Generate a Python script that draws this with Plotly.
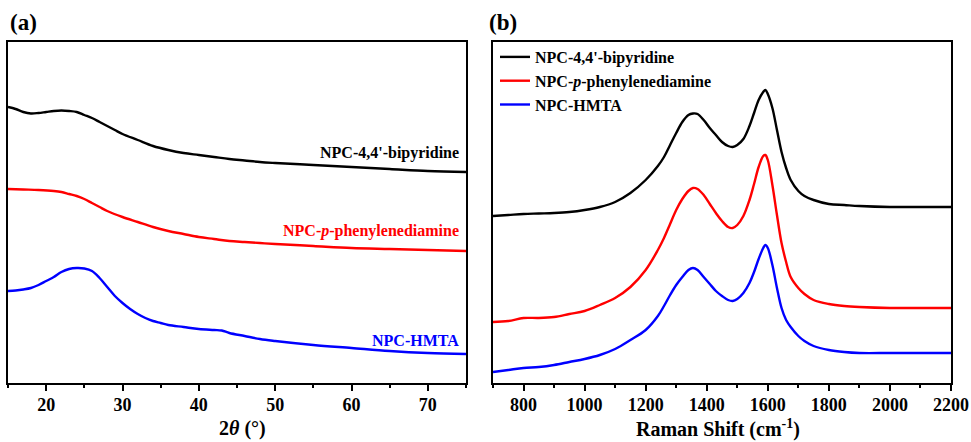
import plotly.graph_objects as go

# ---------------- Panel (a): XRD ----------------
xrd_two_theta_bipy = [15, 16, 17, 18, 19, 20, 21, 22, 23, 24, 25, 26, 27, 28, 29, 30, 32, 34, 36, 38, 40,
                      42, 44, 46, 48, 50, 55, 60, 65, 70, 75]
xrd_bipy = [293, 291, 288, 286.5, 287, 288, 289, 289.5, 289, 288, 285, 282, 278, 274, 270, 266, 260, 254,
            250, 247, 245, 243, 241, 239.5, 238, 237, 235, 233, 231, 229, 228]

xrd_two_theta_ppd = [15, 17, 19, 21, 22, 23, 24, 25, 26, 27, 28, 30, 32, 34, 36, 38, 40, 42, 44, 46, 48, 50,
                     55, 60, 65, 70, 75]
xrd_ppd = [211, 210.5, 210, 209, 208, 206, 204, 201, 197, 193, 189, 183, 178, 173, 169, 166, 163, 161, 159,
           158, 157, 156, 154, 152, 151, 150, 149]

xrd_two_theta_hmta = [15, 16, 17, 18, 19, 20, 21, 22, 23, 24, 25, 26, 27, 28, 29, 30, 31, 32, 33, 34, 35, 36,
                      38, 40, 42, 43, 44, 46, 48, 50, 55, 60, 65, 70, 75]
xrd_hmta = [109, 109.5, 110.5, 112, 115, 119, 123, 128, 131, 132, 131.5, 129, 122, 113, 104, 97, 91, 86, 82,
            79, 77, 75, 73, 71, 70, 69.5, 67, 64, 61, 59, 55, 52, 49, 47, 46]

# ---------------- Panel (b): Raman ----------------
raman_shift = [700, 750, 800, 850, 900, 950, 1000, 1050, 1100, 1150, 1200, 1240, 1260, 1280, 1300, 1320,
               1340, 1355, 1370, 1390, 1410, 1430, 1450, 1470, 1485, 1500, 1520, 1540, 1555, 1570, 1585,
               1592, 1600, 1615, 1630, 1645, 1660, 1675, 1700, 1720, 1750, 1800, 1850, 1900, 2000, 2100, 2200]
raman_bipy = [184, 185, 186, 186.5, 187, 188, 190, 193, 198, 207, 220, 234, 243, 255, 267, 278,
              285, 286.5, 286, 280, 272, 265, 258, 254, 253, 255, 261, 274, 287, 300, 308,
              310, 306, 292, 270, 248, 232, 220, 209, 204, 200, 196, 195, 194, 193, 193, 193]
raman_ppd = [78, 79, 82, 82, 83, 86, 89, 95, 102, 113, 130, 150, 162, 176, 190, 201,
             209, 212, 211, 205, 196, 187, 179, 173, 172, 175, 184, 200, 216, 233, 244,
             245, 240, 215, 185, 157, 138, 123, 112, 106, 100, 96, 94, 93, 92, 92, 92]
raman_hmta = [28, 30, 32, 33, 35, 38, 41, 45, 51, 60, 70, 84, 94, 105, 115, 123,
              130, 132, 130, 123, 116, 109, 104, 100, 99, 101, 107, 117, 128, 141, 152,
              155, 152, 135, 112, 92, 80, 73, 64, 59, 54, 50, 48, 47, 47, 47, 47]

names = ["NPC-4,4'-bipyridine", "NPC-<i>p</i>-phenylenediamine", "NPC-HMTA"]
colors = ["#000000", "#ff0000", "#0000ff"]

xticks_a = [20, 30, 40, 50, 60, 70]
xticks_b = [800, 1000, 1200, 1400, 1600, 1800, 2000, 2200]

FONT = "Liberation Serif, Times New Roman, serif"
W, H = 971, 442

fig = go.Figure()
xrd_sets = [(xrd_two_theta_bipy, xrd_bipy), (xrd_two_theta_ppd, xrd_ppd), (xrd_two_theta_hmta, xrd_hmta)]
for (xx, yy), c, n in zip(xrd_sets, colors, names):
    fig.add_trace(go.Scatter(x=xx, y=yy, mode="lines", line=dict(color=c, width=2.4, shape="spline"),
                             name=n, showlegend=False, xaxis="x", yaxis="y"))
for yy, c, n in zip([raman_bipy, raman_ppd, raman_hmta], colors, names):
    fig.add_trace(go.Scatter(x=raman_shift, y=yy, mode="lines", line=dict(color=c, width=2.4, shape="spline"),
                             name=n, showlegend=True, xaxis="x2", yaxis="y2"))

px = lambda v: v / W
py = lambda v: 1 - v / H

ydom = [py(383), py(42)]
common_x = dict(showline=True, linecolor="black", linewidth=2, mirror=True, ticks="outside",
                ticklen=6, tickwidth=1.5, tickcolor="black", showgrid=False, zeroline=False,
                tickfont=dict(family=FONT, size=18, color="black", weight="bold"), automargin=False,
                ticklabelstandoff=-2)
common_y = dict(showline=True, linecolor="black", linewidth=2, mirror=True, ticks="",
                showticklabels=False, showgrid=False, zeroline=False, range=[17, 358], domain=ydom,
                automargin=False)

fig.update_layout(
    width=W, height=H, margin=dict(l=0, r=0, t=0, b=0),
    paper_bgcolor="white", plot_bgcolor="white",
    xaxis=dict(common_x, domain=[px(8), px(466)], range=[15, 75], tickvals=xticks_a,
               minor=dict(dtick=5, tick0=0, ticks="outside", ticklen=3, tickwidth=1.5, tickcolor="black"),
               anchor="y"),
    yaxis=dict(common_y, anchor="x"),
    xaxis2=dict(common_x, domain=[px(493), px(951)], range=[700, 2200], tickvals=xticks_b,
                minor=dict(dtick=100, tick0=0, ticks="outside", ticklen=3, tickwidth=1.5, tickcolor="black"),
                anchor="y2"),
    yaxis2=dict(common_y, anchor="x2"),
    legend=dict(x=px(495), y=py(40), xanchor="left", yanchor="top", bgcolor="rgba(0,0,0,0)",
                font=dict(family=FONT, size=16, color="black", weight="bold"), tracegroupgap=0,
                itemwidth=30),
    showlegend=True,
)

ann = []
# panel labels
ann.append(dict(text="(a)", x=px(8), y=py(22), xref="paper", yref="paper", xanchor="left", yanchor="middle",
                showarrow=False, font=dict(family=FONT, size=23, color="black", weight="bold")))
ann.append(dict(text="(b)", x=px(487), y=py(22), xref="paper", yref="paper", xanchor="left", yanchor="middle",
                showarrow=False, font=dict(family=FONT, size=23, color="black", weight="bold")))
# axis titles
ann.append(dict(text="2<i>θ</i> (°)", x=px(242), y=py(428), xref="paper", yref="paper", xanchor="center",
                yanchor="middle", showarrow=False, font=dict(family=FONT, size=20, color="black", weight="bold")))
ann.append(dict(text="Raman Shift (cm<sup>-1</sup>)", x=px(718), y=py(428), xref="paper", yref="paper",
                xanchor="center", yanchor="middle", showarrow=False,
                font=dict(family=FONT, size=20, color="black", weight="bold")))
# series labels in panel (a)
for n, c, yv in zip(names, colors, [247, 169, 60]):
    ann.append(dict(text=n, x=74.3, y=yv, xref="x", yref="y", xanchor="right", yanchor="middle",
                    showarrow=False, font=dict(family=FONT, size=16, color=c, weight="bold")))
fig.update_layout(annotations=ann)

fig.write_html("out.html")
